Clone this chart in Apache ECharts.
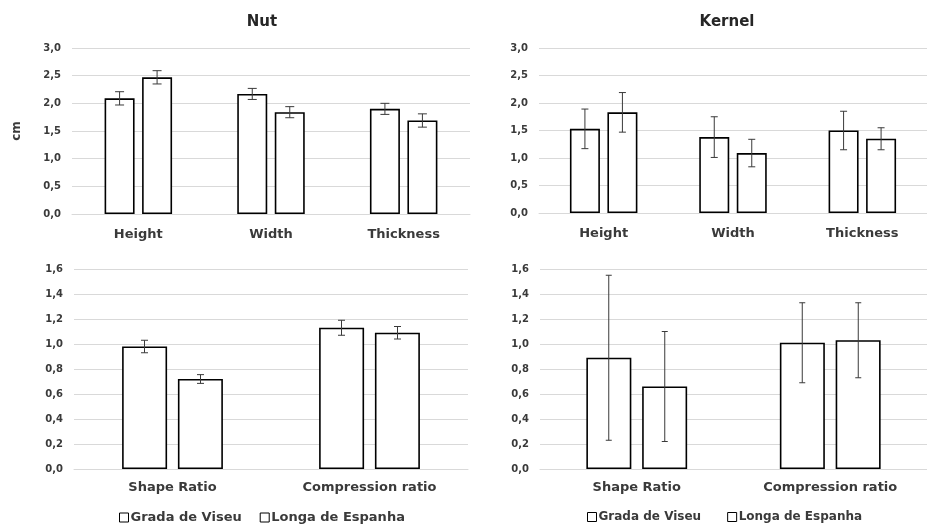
<!DOCTYPE html>
<html>
<head>
<meta charset="utf-8">
<script src="https://cdn.jsdelivr.net/npm/echarts@6/dist/echarts.min.js"></script>
<style>html,body{margin:0;padding:0;background:#fff}#c{width:927px;height:528px}</style>
</head>
<body>
<div id="c"></div>
<script>
// ---- data ----
const sizeCategories = ['Height', 'Width', 'Thickness'];
const ratioCategories = ['Shape Ratio', 'Compression ratio'];
const seriesNames = ['Grada de Viseu', 'Longa de Espanha'];

const nutGV = [2.09, 2.17, 1.90];
const nutGVErr = [0.12, 0.10, 0.10];
const nutLE = [2.47, 1.84, 1.69];
const nutLEErr = [0.12, 0.10, 0.12];

const kernelGV = [1.53, 1.38, 1.50];
const kernelGVErr = [0.36, 0.37, 0.35];
const kernelLE = [1.83, 1.09, 1.35];
const kernelLEErr = [0.36, 0.25, 0.20];

const nutRatioGV = [0.98, 1.13];
const nutRatioGVErr = [0.05, 0.06];
const nutRatioLE = [0.72, 1.09];
const nutRatioLEErr = [0.035, 0.05];

const kernelRatioGV = [0.89, 1.01];
const kernelRatioGVErr = [0.66, 0.32];
const kernelRatioLE = [0.66, 1.03];
const kernelRatioLEErr = [0.44, 0.30];

const panelTitles = ['Nut', 'Kernel'];
const yAxisName = 'cm';

// ---- styles ----
const FONT = 'DejaVu Sans';
const TXT = '#3a3a3a';
const GRIDC = '#d9d9d9';
const fmt = v => v.toFixed(1).replace('.', ',');

const grids = [
  {left: 72, top: 48, width: 398, height: 166},
  {left: 539, top: 48, width: 396, height: 165},
  {left: 74, top: 269, width: 394, height: 200},
  {left: 540, top: 269, width: 394, height: 200}
];
const panelCfg = [
  {cats: sizeCategories, max: 3, interval: 0.5, bw: 30, gap: '25%', off: 18.75, cap: 9, lm: 14,
   gv: nutGV, gvE: nutGVErr, le: nutLE, leE: nutLEErr},
  {cats: sizeCategories, max: 3, interval: 0.5, bw: 30, gap: '25%', off: 18.75, cap: 7, lm: 14,
   gv: kernelGV, gvE: kernelGVErr, le: kernelLE, leE: kernelLEErr},
  {cats: ratioCategories, max: 1.6, interval: 0.2, bw: 45, gap: '24%', off: 28, cap: 7, lm: 12,
   gv: nutRatioGV, gvE: nutRatioGVErr, le: nutRatioLE, leE: nutRatioLEErr},
  {cats: ratioCategories, max: 1.6, interval: 0.2, bw: 45, gap: '24%', off: 28, cap: 6, lm: 12,
   gv: kernelRatioGV, gvE: kernelRatioGVErr, le: kernelRatioLE, leE: kernelRatioLEErr}
];

const xAxis = [], yAxis = [], series = [];
panelCfg.forEach((p, i) => {
  xAxis.push({
    type: 'category', gridIndex: i, data: p.cats,
    axisLine: {show: true, lineStyle: {color: GRIDC, width: 1}},
    axisTick: {show: false},
    axisLabel: {color: TXT, fontFamily: FONT, fontWeight: 'bold', fontSize: 13, margin: p.lm}
  });
  yAxis.push({
    type: 'value', gridIndex: i, min: 0, max: p.max, interval: p.interval,
    name: i === 0 ? yAxisName : '',
    nameLocation: 'middle', nameGap: 49, nameRotate: 90,
    nameTextStyle: {color: TXT, fontFamily: FONT, fontWeight: 'bold', fontSize: 12},
    axisLine: {show: false}, axisTick: {show: false},
    splitLine: {lineStyle: {color: GRIDC, width: 1}},
    axisLabel: {color: TXT, fontFamily: FONT, fontWeight: 'bold', fontSize: 10, margin: 11, formatter: fmt}
  });
  [[p.gv, p.gvE, -p.off], [p.le, p.leE, p.off]].forEach((s, k) => {
    series.push({
      type: 'bar', name: seriesNames[k], xAxisIndex: i, yAxisIndex: i,
      data: s[0], barWidth: p.bw, barGap: p.gap,
      itemStyle: {color: '#ffffff', borderColor: '#000000', borderWidth: 1.6},
      emphasis: {disabled: true}, z: 2
    });
    const cap = p.cap, off = s[2];
    series.push({
      type: 'custom', name: 'err' + i + k, xAxisIndex: i, yAxisIndex: i, z: 5,
      data: s[0].map((v, j) => [j, v, s[1][j]]),
      renderItem: function (params, api) {
        const c = api.value(0), v = api.value(1), e = api.value(2);
        const mid = api.coord([c, v]);
        const x = mid[0] + off;
        const yt = api.coord([c, v + e])[1];
        const yb = api.coord([c, v - e])[1];
        const st = {stroke: '#3a3a3a', lineWidth: 1};
        return {
          type: 'group',
          children: [
            {type: 'line', shape: {x1: x, y1: yt, x2: x, y2: yb}, style: st},
            {type: 'line', shape: {x1: x - cap / 2, y1: yt, x2: x + cap / 2, y2: yt}, style: st},
            {type: 'line', shape: {x1: x - cap / 2, y1: yb, x2: x + cap / 2, y2: yb}, style: st}
          ]
        };
      }
    });
  });
});

const chart = echarts.init(document.getElementById('c'), null, {renderer: 'canvas'});
chart.setOption({
  animation: false,
  backgroundColor: '#ffffff',
  title: [
    {text: panelTitles[0], left: 257, top: 10, textAlign: 'center',
     textStyle: {fontFamily: FONT, fontWeight: 'bold', fontSize: 15, color: '#262626'}},
    {text: panelTitles[1], left: 722, top: 10, textAlign: 'center',
     textStyle: {fontFamily: FONT, fontWeight: 'bold', fontSize: 15, color: '#262626'}}
  ],
  legend: [
    {data: seriesNames, left: 114, top: 506, icon: 'rect', itemWidth: 9, itemHeight: 9, itemGap: 18,
     itemStyle: {color: '#fff', borderColor: '#000', borderWidth: 1},
     textStyle: {fontFamily: FONT, fontWeight: 'bold', fontSize: 13, color: TXT, padding: [0, 0, 0, -3]}},
    {data: seriesNames, left: 582, top: 506, icon: 'rect', itemWidth: 9, itemHeight: 9, itemGap: 26,
     itemStyle: {color: '#fff', borderColor: '#000', borderWidth: 1},
     textStyle: {fontFamily: FONT, fontWeight: 'bold', fontSize: 12, color: TXT, padding: [0, 0, 0, -3]}}
  ],
  grid: grids,
  xAxis: xAxis,
  yAxis: yAxis,
  series: series
});
</script>
</body>
</html>
